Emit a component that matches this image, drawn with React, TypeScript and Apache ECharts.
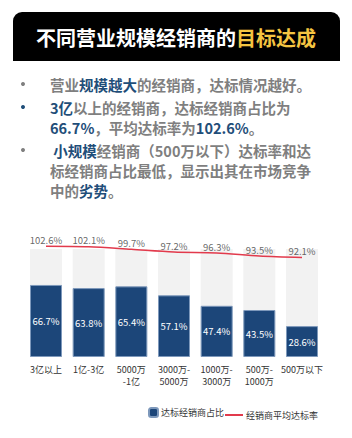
import React, { useEffect, useRef } from "react";
import * as echarts from "echarts";

const categories = ["3亿以上", "1亿-3亿", "5000万\n-1亿", "3000万-\n5000万", "1000万-\n3000万", "500万-\n1000万", "500万以下"];
const shareValues = [66.7, 63.8, 65.4, 57.1, 47.4, 43.5, 28.6];
const rateValues = [102.6, 102.1, 99.7, 97.2, 96.3, 93.5, 92.1];
const fullValues = [100, 100, 100, 100, 100, 100, 100];
const shareName = "达标经销商占比";
const rateName = "经销商平均达标率";

const titleMain = "不同营业规模经销商的";
const titleHighlight = "目标达成";

const bulletLines = [
  { y: 84, dot: "g", text: "{g|营业}{b|规模越大}{g|的经销商，达标情况越好。}" },
  { y: 107, dot: "b", text: "{b|3亿}{g|以上的经销商，达标经销商占比为}" },
  { y: 127, dot: null, text: "{b|66.7%}{g|，平均达标率为}{b|102.6%}{g|。}" },
  { y: 150, dot: "g", text: "{g| }{b|小规模}{g|经销商（500万以下）达标率和达}" },
  { y: 170, dot: null, text: "{g|标经销商占比最低，显示出其在市场竞争}" },
  { y: 190, dot: null, text: "{g|中的}{b|劣势}{g|。}" },
];

const FONT = "'Noto Sans CJK SC', 'Noto Sans', sans-serif";
const GRAY = "#7f7f7f";
const BLUE = "#1f4e79";
const BAR_BLUE = "#1c4679";
const RED = "#e23a4c";

export default function App() {
  const ref = useRef<HTMLDivElement>(null);
  useEffect(() => {
    if (!ref.current) return;
    const chart = echarts.init(ref.current, null, { renderer: "svg" });
    const richStyles = {
      g: { fontSize: 14.5, fontWeight: "bold", fill: GRAY, fontFamily: FONT },
      b: { fontSize: 14.5, fontWeight: "bold", fill: BLUE, fontFamily: FONT },
    };
    const graphics: any[] = [
      {
        type: "rect",
        shape: { x: 13, y: 12, width: 327, height: 49, r: [9, 9, 0, 0] },
        style: { fill: "#000" },
      },
      {
        type: "text",
        x: 176,
        y: 37,
        style: {
          text: `{w|${titleMain}}{y|${titleHighlight}}`,
          align: "center",
          verticalAlign: "middle",
          rich: {
            w: { fontSize: 20, fontWeight: "bold", fill: "#ffffff", fontFamily: FONT },
            y: { fontSize: 20, fontWeight: "bold", fill: "#f5c542", fontFamily: FONT },
          },
        },
      },
    ];
    bulletLines.forEach((ln) => {
      if (ln.dot) {
        graphics.push({
          type: "circle",
          shape: { cx: 23, cy: ln.y, r: 2 },
          style: { fill: ln.dot === "b" ? BLUE : GRAY },
        });
      }
      graphics.push({
        type: "text",
        x: 50,
        y: ln.y,
        style: { text: ln.text, verticalAlign: "middle", align: "left", rich: richStyles },
      });
    });

    chart.setOption({
      animation: false,
      textStyle: { fontFamily: FONT },
      graphic: graphics,
      grid: { left: 24.67, right: 28.67, top: 238.2, bottom: 81, containLabel: false },
      legend: [
        {
          data: [shareName],
          left: 148,
          top: 407,
          itemWidth: 9,
          itemHeight: 9,
          textStyle: { fontSize: 9, color: "#333", fontFamily: FONT, padding: [0, 0, 0, -2] },
          padding: 0,
          selectedMode: false,
        },
        {
          data: [{ name: rateName, icon: "rect" }],
          left: 225,
          top: 410.5,
          itemWidth: 18,
          itemHeight: 2,
          itemStyle: { color: RED },
          textStyle: { fontSize: 9, color: "#333", fontFamily: FONT, padding: [0, 0, 0, -2] },
          padding: 0,
          selectedMode: false,
        },
      ],
      xAxis: {
        type: "category",
        data: categories,
        axisLine: { show: false },
        axisTick: { show: false },
        axisLabel: {
          interval: 0,
          margin: 6,
          fontSize: 9,
          lineHeight: 12.5,
          color: "#333",
          fontFamily: FONT,
        },
      },
      yAxis: {
        type: "value",
        min: 0,
        max: 110,
        show: false,
        splitLine: { show: false },
      },
      series: [
        {
          name: "bg",
          type: "bar",
          data: fullValues,
          barWidth: 32,
          itemStyle: { color: "#f2f2f2" },
          silent: true,
        },
        {
          name: shareName,
          type: "bar",
          data: shareValues,
          barWidth: 32,
          barGap: "-100%",
          itemStyle: { color: BAR_BLUE, borderColor: "#7d98bb", borderWidth: 1 },
          label: {
            show: true,
            position: "inside",
            formatter: "{c}%",
            color: "#ffffff",
            fontSize: 9.5,
            fontFamily: FONT,
          },
        },
        {
          name: rateName,
          type: "line",
          data: rateValues,
          symbol: "none",
          smooth: 0.3,
          clip: false,
          lineStyle: { color: RED, width: 1.5 },
          itemStyle: { color: RED },
          z: 3,
        },
        {
          name: "rateLabels",
          type: "scatter",
          data: rateValues,
          symbolSize: 0,
          clip: false,
          silent: true,
          itemStyle: { color: "transparent" },
          label: {
            show: true,
            position: "top",
            distance: 1.5,
            formatter: "{c}%",
            color: "#404040",
            fontSize: 9.5,
            fontFamily: FONT,
          },
          z: 4,
        },
      ],
    });
    return () => chart.dispose();
  }, []);
  return (
    <div
      ref={ref}
      style={{ position: "fixed", left: 0, top: 0, width: 352, height: 438, background: "#fff" }}
    />
  );
}
